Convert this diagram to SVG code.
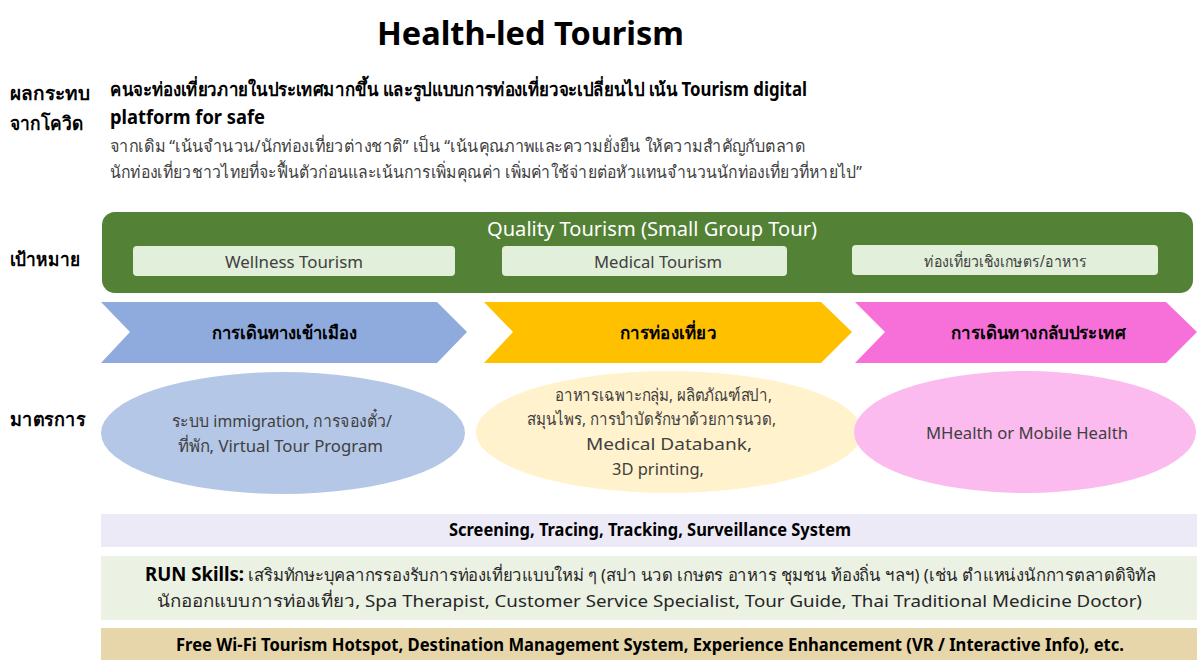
<svg xmlns="http://www.w3.org/2000/svg" width="1197" height="660" viewBox="0 0 1197 660">
<style>
text{font-family:"Noto Sans","DejaVu Sans","Liberation Sans",sans-serif;}
.title{font-size:33px;font-weight:bold;fill:#000;}
.lab{font-size:19px;font-weight:bold;fill:#000;}
.hd{font-size:19px;font-weight:bold;fill:#000;}
.sub{font-size:17px;fill:#404040;}
.wh{font-size:20px;fill:#fff;}
.inn{font-size:16px;fill:#404040;}
.chev{font-size:18px;font-weight:bold;fill:#000;}
.ell{font-size:17px;fill:#404040;}
.band{font-size:17px;font-weight:bold;fill:#000;}
.bandn{font-size:17px;fill:#262626;}
</style>
<rect x="0" y="0" width="1197" height="660" fill="#fff"/>
<text class="title" x="377" y="45" textLength="307" lengthAdjust="spacingAndGlyphs">Health-led Tourism</text>

<g id="labels">
<text class="lab" x="10" y="100" textLength="80" lengthAdjust="spacingAndGlyphs">ผลกระทบ</text>
<text class="lab" x="10" y="130" textLength="73" lengthAdjust="spacingAndGlyphs">จากโควิด</text>
<text class="lab" x="10" y="266" textLength="70" lengthAdjust="spacingAndGlyphs">เป้าหมาย</text>
<text class="lab" x="10" y="426" textLength="75" lengthAdjust="spacingAndGlyphs">มาตรการ</text>
</g>

<g id="impact">
<text class="hd" x="110" y="96" textLength="697" lengthAdjust="spacingAndGlyphs">คนจะท่องเที่ยวภายในประเทศมากขึ้น และรูปแบบการท่องเที่ยวจะเปลี่ยนไป เน้น Tourism digital</text>
<text class="hd" x="110" y="124" textLength="155" lengthAdjust="spacingAndGlyphs">platform for safe</text>
<text class="sub" x="110" y="152" textLength="695" lengthAdjust="spacingAndGlyphs">จากเดิม “เน้นจำนวน/นักท่องเที่ยวต่างชาติ” เป็น “เน้นคุณภาพและความยั่งยืน ให้ความสำคัญกับตลาด</text>
<text class="sub" x="110" y="178" textLength="752" lengthAdjust="spacingAndGlyphs">นักท่องเที่ยวชาวไทยที่จะฟื้นตัวก่อนและเน้นการเพิ่มคุณค่า เพิ่มค่าใช้จ่ายต่อหัวแทนจำนวนนักท่องเที่ยวที่หายไป”</text>
</g>

<g id="goal">
<rect x="102" y="212" width="1091" height="81" rx="13" fill="#538135"/>
<text class="wh" x="487" y="236" textLength="330" lengthAdjust="spacingAndGlyphs">Quality Tourism (Small Group Tour)</text>
<rect x="133" y="246" width="322" height="30" rx="4" fill="#E2EFDA"/>
<text class="inn" x="225" y="268" textLength="138" lengthAdjust="spacingAndGlyphs">Wellness Tourism</text>
<rect x="502" y="246" width="285" height="30" rx="4" fill="#E2EFDA"/>
<text class="inn" x="594" y="268" textLength="128" lengthAdjust="spacingAndGlyphs">Medical Tourism</text>
<rect x="852" y="245" width="306" height="30" rx="4" fill="#E2EFDA"/>
<text class="inn" x="924" y="267" textLength="163" lengthAdjust="spacingAndGlyphs">ท่องเที่ยวเชิงเกษตร/อาหาร</text>
</g>

<g id="chevron1">
<polygon points="101,302 437,302 467,332 437,363 101,363 130,332" fill="#8FAADC"/>
<text class="chev" x="212" y="339" textLength="145" lengthAdjust="spacingAndGlyphs">การเดินทางเข้าเมือง</text>
</g>
<g id="chevron2">
<polygon points="484,302 821,302 852,332 821,363 484,363 513,332" fill="#FFC000"/>
<text class="chev" x="620" y="339" textLength="96" lengthAdjust="spacingAndGlyphs">การท่องเที่ยว</text>
</g>
<g id="chevron3">
<polygon points="855,302 1166,302 1197,332 1166,363 855,363 885,332" fill="#F76FD9"/>
<text class="chev" x="951" y="339" textLength="174" lengthAdjust="spacingAndGlyphs">การเดินทางกลับประเทศ</text>
</g>

<g id="measure1">
<ellipse cx="283" cy="433" rx="182" ry="61" fill="#B4C7E7"/>
<text class="ell" x="172" y="427" textLength="220" lengthAdjust="spacingAndGlyphs">ระบบ immigration, การจองตั๋ว/</text>
<text class="ell" x="178" y="452" textLength="205" lengthAdjust="spacingAndGlyphs">ที่พัก, Virtual Tour Program</text>
</g>
<g id="measure2">
<ellipse cx="669" cy="432" rx="193" ry="61" fill="#FFF2CC"/>
<text class="ell" x="555" y="401" textLength="217" lengthAdjust="spacingAndGlyphs">อาหารเฉพาะกลุ่ม, ผลิตภัณฑ์สปา,</text>
<text class="ell" x="527" y="425" textLength="249" lengthAdjust="spacingAndGlyphs">สมุนไพร, การบำบัดรักษาด้วยการนวด,</text>
<text class="ell" x="586" y="450" textLength="166" lengthAdjust="spacingAndGlyphs">Medical Databank,</text>
<text class="ell" x="612" y="475" textLength="92" lengthAdjust="spacingAndGlyphs">3D printing,</text>
</g>
<g id="measure3">
<ellipse cx="1025" cy="432" rx="171" ry="61" fill="#FBBBEF"/>
<text class="ell" x="926" y="439" textLength="202" lengthAdjust="spacingAndGlyphs">MHealth or Mobile Health</text>
</g>

<g id="band1">
<rect x="101" y="514" width="1096" height="33" fill="#EDEAF8"/>
<text class="band" x="449" y="536" textLength="402" lengthAdjust="spacingAndGlyphs">Screening, Tracing, Tracking, Surveillance System</text>
</g>
<g id="band2">
<rect x="101" y="556" width="1096" height="64" fill="#EBF1E3"/>
<text class="bandn" x="145" y="581" textLength="1011" lengthAdjust="spacingAndGlyphs"><tspan font-weight="bold" fill="#000" font-size="19">RUN Skills:</tspan> เสริมทักษะบุคลากรรองรับการท่องเที่ยวแบบใหม่ ๆ (สปา นวด เกษตร อาหาร ชุมชน ท้องถิ่น ฯลฯ) (เช่น ตำแหน่งนักการตลาดดิจิทัล</text>
<text class="bandn" x="157" y="607" font-size="19" textLength="985" lengthAdjust="spacingAndGlyphs">นักออกแบบการท่องเที่ยว, Spa Therapist, Customer Service Specialist, Tour Guide, Thai Traditional Medicine Doctor)</text>
</g>
<g id="band3">
<rect x="101" y="628" width="1096" height="32" fill="#E6D6AA"/>
<text class="band" x="176" y="651" textLength="948" lengthAdjust="spacingAndGlyphs">Free Wi-Fi Tourism Hotspot, Destination Management System, Experience Enhancement (VR / Interactive Info), etc.</text>
</g>
</svg>
